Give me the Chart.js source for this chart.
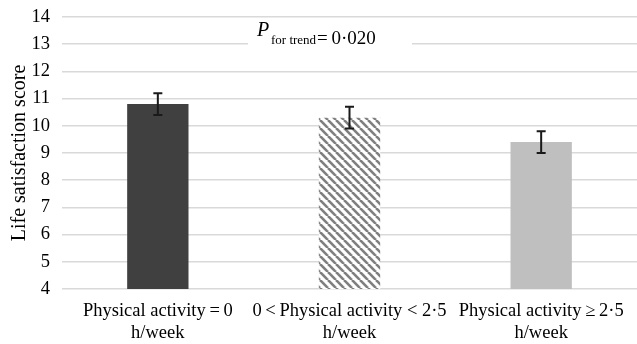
<!DOCTYPE html>
<html>
<head>
<meta charset="utf-8">
<script src="https://cdn.jsdelivr.net/npm/chart.js@4"></script>
<style>
  html, body { margin: 0; padding: 0; background: #fff; }
  #wrap { width: 637px; height: 344px; position: relative; }
</style>
</head>
<body>
<div id="wrap"><canvas id="chart"></canvas></div>
<script>
// data
const categories = [
  ["Physical activity\u2009=\u20090", "h/week"],
  ["0\u2009<\u2009Physical activity < 2\u00b75", "h/week"],
  ["Physical activity\u2009\u2265\u20092\u00b75", "h/week"]
];
const scores = [10.8, 10.3, 9.4];
const errLow = [10.4, 9.9, 9.0];
const errHigh = [11.2, 10.7, 9.8];
const yTicks = [4, 5, 6, 7, 8, 9, 10, 11, 12, 13, 14];

const serif = "'Liberation Serif', 'Times New Roman', serif";

// diagonal hatch for the middle bar
function makeHatch() {
  const c = document.createElement('canvas');
  c.width = 8; c.height = 8;
  const g = c.getContext('2d');
  g.fillStyle = '#ffffff';
  g.fillRect(0, 0, 8, 8);
  g.strokeStyle = '#7f7f7f';
  g.lineWidth = 2.6;
  [-8, 0, 8].forEach(off => {
    g.beginPath();
    g.moveTo(off, 0);
    g.lineTo(off + 8, 8);
    g.stroke();
  });
  return g.createPattern(c, 'repeat');
}

const ctx = document.getElementById('chart').getContext('2d');
const barColors = ['#404040', makeHatch(), '#bfbfbf'];

// error bars drawn from errLow / errHigh through the scales
const errorBars = {
  id: 'errorBars',
  afterDatasetsDraw(chart) {
    const x = chart.scales.x, y = chart.scales.y, c = chart.ctx;
    c.save();
    c.strokeStyle = '#1a1a1a';
    c.lineWidth = 2;
    scores.forEach((v, i) => {
      const px = x.getPixelForValue(i);
      const top = y.getPixelForValue(errHigh[i]);
      const bot = y.getPixelForValue(errLow[i]);
      c.beginPath();
      c.moveTo(px, top); c.lineTo(px, bot);
      c.moveTo(px - 4.5, top); c.lineTo(px + 4.5, top);
      c.moveTo(px - 4.5, bot); c.lineTo(px + 4.5, bot);
      c.stroke();
    });
    c.restore();
  }
};

// "P for trend" note on a white box over the 13 gridline
const trendNote = {
  id: 'trendNote',
  afterDatasetsDraw(chart) {
    const c = chart.ctx;
    const y13 = chart.scales.y.getPixelForValue(13);
    c.save();
    c.fillStyle = '#ffffff';
    c.fillRect(248, y13 - 20, 164, 32);
    c.fillStyle = '#000000';
    c.textBaseline = 'alphabetic';
    c.font = "italic 20px " + serif;
    c.fillText('P', 257, y13 - 8);
    c.font = "13px " + serif;
    c.fillText('for trend', 271, y13 - 0.5);
    c.font = "19px " + serif;
    c.fillText('=\u20090\u00b7020', 317, y13 - 0.5);
    c.restore();
  }
};

new Chart(ctx, {
  type: 'bar',
  data: {
    labels: categories,
    datasets: [{
      data: scores,
      backgroundColor: barColors,
      borderWidth: 0,
      barPercentage: 0.32,
      categoryPercentage: 1
    }]
  },
  options: {
    responsive: true,
    maintainAspectRatio: false,
    animation: false,
    layout: { padding: { top: 17, right: 0, left: 0, bottom: 0 } },
    plugins: {
      legend: { display: false },
      tooltip: { enabled: false }
    },
    scales: {
      x: {
        grid: { display: false, drawTicks: false },
        border: { display: false },
        ticks: {
          color: '#000',
          font: { family: serif, size: 18.5, lineHeight: 1.15 },
          padding: 12,
          maxRotation: 0,
          autoSkip: false
        },
        afterFit: s => { s.height = 55; s.paddingLeft = 0; s.paddingRight = 0; }
      },
      y: {
        min: 4,
        max: 14,
        afterBuildTicks: s => { s.ticks = yTicks.map(v => ({ value: v })); },
        grid: { color: '#d9d9d9', lineWidth: 1.5, drawTicks: false },
        border: { display: false },
        ticks: {
          color: '#000',
          font: { family: serif, size: 18.5 },
          padding: 12
        },
        title: {
          display: true,
          text: 'Life satisfaction score',
          color: '#000',
          font: { family: serif, size: 20 },
          padding: { top: 8, bottom: 0 }
        },
        afterFit: s => { s.width = 62; s.paddingTop = 0; s.paddingBottom = 0; }
      }
    }
  },
  plugins: [errorBars, trendNote]
});
</script>
</body>
</html>
